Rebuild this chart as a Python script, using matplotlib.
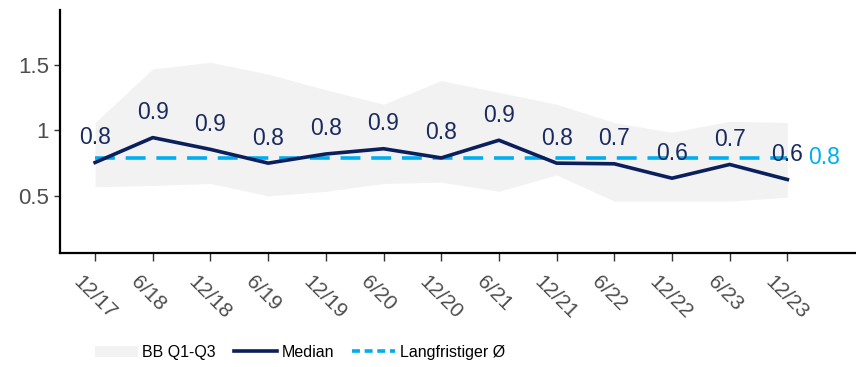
import matplotlib.pyplot as plt
from matplotlib.patches import Patch
from matplotlib.lines import Line2D

plt.rcParams["font.family"] = ["Liberation Sans", "DejaVu Sans"]

periods = ["12/17", "6/18", "12/18", "6/19", "12/19", "6/20", "12/20",
           "6/21", "12/21", "6/22", "12/22", "6/23", "12/23"]
median = [0.755, 0.945, 0.855, 0.75, 0.82, 0.86, 0.79,
          0.925, 0.75, 0.745, 0.635, 0.74, 0.625]
q1 = [0.57, 0.58, 0.595, 0.50, 0.535, 0.595, 0.605,
      0.535, 0.66, 0.46, 0.46, 0.46, 0.49]
q3 = [1.06, 1.47, 1.52, 1.43, 1.31, 1.20, 1.38,
      1.29, 1.20, 1.06, 0.985, 1.07, 1.06]
long_run = 0.79

navy = "#0b1f5c"
light_blue = "#00aeef"
band_grey = "#f2f2f2"

fig = plt.figure(figsize=(8.56, 3.67), dpi=100)
ax = fig.add_axes([0.070, 0.311, 0.930, 0.662])

x = list(range(len(periods)))
ax.fill_between(x, q1, q3, color=band_grey, linewidth=0)
ax.plot(x, [long_run] * len(x), color=light_blue, lw=2.6, ls=(0, (5.5, 3)))
ax.plot(x, median, color=navy, lw=2.6)

for xi, v in zip(x, median):
    ax.annotate(f"{v:.1f}", (xi, v), xytext=(0, 18), textcoords="offset points",
                ha="center", va="center", fontsize=16.5, color="#1a2a5e")
ax.text(x[-1] + 0.36, long_run, f"{long_run:.1f}", ha="left", va="center",
        fontsize=16.5, color=light_blue)

ax.set_xlim(-0.61, 13.19)
ax.set_ylim(0.065, 1.92)
ax.set_xticks(x)
ax.tick_params(axis="x", length=6, width=1, color="#333333", labelbottom=False)
# x labels drawn as rotated text under each tick
for xi, p in zip(x, periods):
    ax.annotate(p, (xi, 0), xycoords=ax.get_xaxis_transform(),
                xytext=(-9, -14), textcoords="offset points",
                rotation=-45, rotation_mode="anchor", ha="left", va="top",
                fontsize=15, color="#4d4d4d", annotation_clip=False)
ax.set_yticks([0.5, 1.0, 1.5])
ax.set_yticklabels(["0.5", "1", "1.5"], fontsize=16, color="#4d4d4d")
ax.tick_params(axis="y", length=4, width=1, color="#333333", pad=4)

for s in ["top", "right"]:
    ax.spines[s].set_visible(False)
for s in ["left", "bottom"]:
    ax.spines[s].set_linewidth(1.6)
    ax.spines[s].set_color("black")

handles = [
    Patch(facecolor=band_grey, edgecolor="none", label="BB Q1-Q3"),
    Line2D([], [], color=navy, lw=2.6, label="Median"),
    Line2D([], [], color=light_blue, lw=2.6, ls=(0, (2.2, 1.3)), label="Langfristiger Ø"),
]
fig.legend(handles=handles, loc="center", bbox_to_anchor=(0.35, 0.04), ncol=3,
           frameon=False, handlelength=2.7, handletextpad=0.3, columnspacing=1.1,
           prop={"size": 11.5})

fig.savefig("out.png", dpi=100)
